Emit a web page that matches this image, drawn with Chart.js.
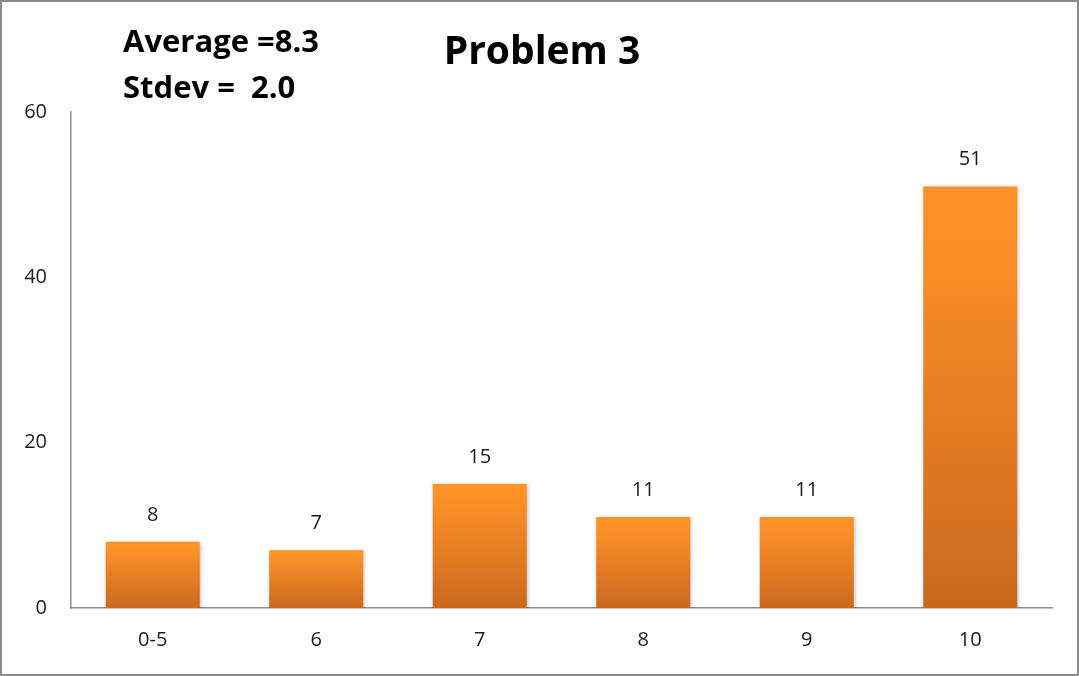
<!DOCTYPE html>
<html>
<head>
<meta charset="utf-8">
<script src="https://cdn.jsdelivr.net/npm/chart.js@4"></script>
<style>
    html, body { margin: 0; padding: 0; background: #fff; }
    #wrap {
        position: relative;
        width: 1079px;
        height: 676px;
        box-sizing: border-box;
        border: 2px solid #8a8a8a;
    }
</style>
</head>
<body>
<div id="wrap"><canvas id="chart"></canvas></div>
<script>
// chart data
const categories = ['0-5', '6', '7', '8', '9', '10'];
const counts = [8, 7, 15, 11, 11, 51];
const yTicks = [0, 20, 40, 60];
const titleText = 'Problem 3';
const statsLines = ['Average =8.3', 'Stdev =  2.0'];

const FONT = '"Open Sans", "Liberation Sans", sans-serif';

// each bar gets its own gradient, light at the top, darker at the base
function barFill(c) {
    const chart = c.chart;
    const y = chart.scales.y;
    if (!chart.chartArea || !y || c.raw === undefined) return '#f28a2a';
    const top = y.getPixelForValue(c.raw);
    const base = y.getPixelForValue(0);
    const g = chart.ctx.createLinearGradient(0, top, 0, base);
    g.addColorStop(0, '#ff9329');
    g.addColorStop(0.12, '#fc9128');
    g.addColorStop(1, '#ca681f');
    return g;
}

// soft shadow behind the bars
const barShadow = {
    id: 'barShadow',
    beforeDatasetDraw(chart) {
        const ctx = chart.ctx;
        ctx.save();
        ctx.shadowColor = 'rgba(0,0,0,0.25)';
        ctx.shadowBlur = 4;
        ctx.shadowOffsetX = 1;
        ctx.shadowOffsetY = 1;
    },
    afterDatasetDraw(chart) {
        chart.ctx.restore();
    }
};

// value labels above the bars, plus the title and stats text
const annotations = {
    id: 'annotations',
    afterDraw(chart) {
        const ctx = chart.ctx;
        const meta = chart.getDatasetMeta(0);
        ctx.save();
        ctx.fillStyle = '#1a1a1a';
        ctx.font = '20px ' + FONT;
        ctx.textAlign = 'center';
        ctx.textBaseline = 'middle';
        meta.data.forEach((bar, i) => {
            ctx.fillText(String(counts[i]), bar.x, bar.y - 27);
        });

        ctx.fillStyle = '#000';
        ctx.font = 'bold 39px ' + FONT;
        ctx.fillText(titleText, 540, 51);

        ctx.font = 'bold 31px ' + FONT;
        ctx.textAlign = 'left';
        ctx.fillText(statsLines[0], 121, 41);
        ctx.fillText(statsLines[1], 121, 87);
        ctx.restore();
    }
};

new Chart(document.getElementById('chart'), {
    type: 'bar',
    data: {
        labels: categories,
        datasets: [{
            data: counts,
            backgroundColor: barFill,
            borderWidth: 0,
            barPercentage: 0.575,
            categoryPercentage: 1
        }]
    },
    options: {
        responsive: true,
        maintainAspectRatio: false,
        animation: false,
        layout: {
            padding: { left: 0, right: 25, top: 110, bottom: 0 }
        },
        plugins: {
            legend: { display: false },
            tooltip: { enabled: false }
        },
        scales: {
            x: {
                grid: { display: false, drawTicks: false },
                border: { display: true, color: '#8c8c8c', width: 1.5 },
                ticks: {
                    color: '#1a1a1a',
                    font: { family: FONT, size: 20 },
                    padding: 20
                },
                afterFit(scale) { scale.height = 66; }
            },
            y: {
                min: 0,
                max: 60,
                grid: { display: false, drawTicks: false },
                border: { display: true, color: '#8c8c8c', width: 1.5 },
                afterBuildTicks(scale) {
                    scale.ticks = yTicks.map(v => ({ value: v }));
                },
                ticks: {
                    color: '#1a1a1a',
                    font: { family: FONT, size: 20 },
                    padding: 24
                },
                afterFit(scale) { scale.width = 69; }
            }
        }
    },
    plugins: [barShadow, annotations]
});
</script>
</body>
</html>
